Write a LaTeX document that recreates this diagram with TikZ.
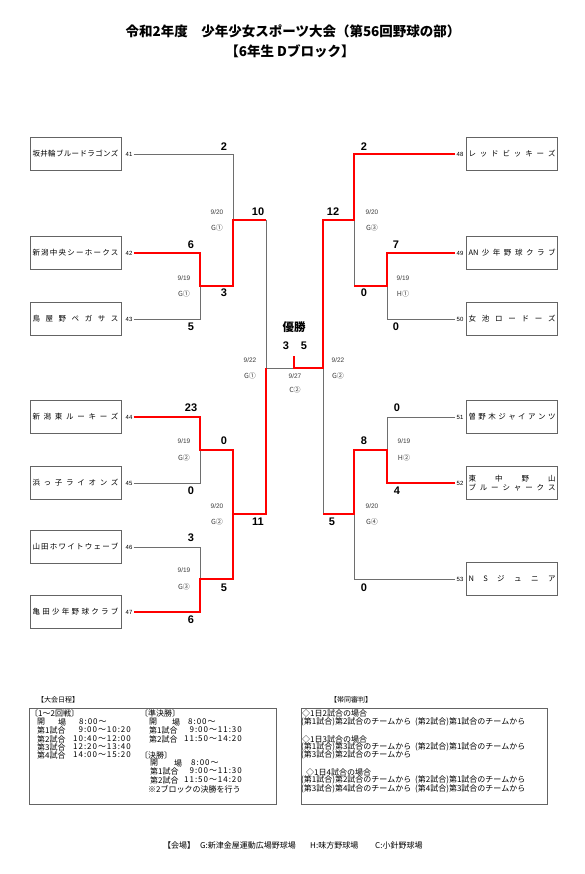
\documentclass[tikz,border=0pt]{standalone}
\usepackage{fontspec}
\setmainfont{Noto Sans CJK JP}
\newfontfamily\arialf{Liberation Sans}
\newfontfamily\timef[LetterSpace=12]{Noto Sans CJK JP}
\definecolor{lgray}{RGB}{110,110,110}
\definecolor{bgray}{RGB}{100,100,100}
\definecolor{tgray}{RGB}{60,60,60}
\newcommand\sprL[1]{\makebox[86pt][s]{#1}}
\newcommand\sprR[1]{\makebox[87pt][s]{#1}}
\tikzset{
 gl/.style={draw=lgray, line width=0.9pt},
 rl/.style={draw=red, line width=1.9pt},
 team/.style={draw=bgray, line width=0.9pt, minimum width=91pt, minimum height=33pt, inner sep=0pt, font=\fontsize{7.5}{9}\selectfont},
 num/.style={inner sep=1pt, font=\arialf\fontsize{6}{7}\selectfont},
 score/.style={inner sep=0pt, font=\arialf\bfseries\fontsize{11}{12}\selectfont},
 dt/.style={inner sep=0pt, text=tgray, font=\arialf\fontsize{6.5}{7}\selectfont},
 gd/.style={inner sep=0pt, text=tgray, font=\fontsize{7}{8}\selectfont},
 sm/.style={inner sep=0pt, anchor=west, font=\fontsize{8}{9}\selectfont},
 sme/.style={inner sep=0pt, anchor=east, font=\timef\fontsize{8}{9}\selectfont},
 smt/.style={inner sep=0pt, anchor=west, font=\timef\fontsize{8}{9}\selectfont},
 hd/.style={inner sep=0pt, anchor=west, font=\fontsize{7}{8}\selectfont},
 ttl/.style={inner sep=0pt, font=\bfseries\fontsize{13.5}{15}\selectfont},
 infobox/.style={draw=bgray, line width=0.8pt, anchor=north west, inner sep=0pt},
}
\begin{document}
\begin{tikzpicture}[x=1pt,y=-1pt]
\useasboundingbox[fill=white] (0,0) rectangle (585,874);
% title
\node[ttl] (title1) at (293,31) {令和2年度　少年少女スポーツ大会（第56回野球の部）};
\node[ttl] (title2) at (290,51) {【6年生 Dブロック】};
% left teams
\node[team] (t41) at (75.5,154) {\sprL{坂\hfill 井\hfill 輪\hfill ブ\hfill ル\hfill ー\hfill ド\hfill ラ\hfill ゴ\hfill ン\hfill ズ}};
\node[team] (t42) at (75.5,253) {\sprL{新\hfill 潟\hfill 中\hfill 央\hfill シ\hfill ー\hfill ホ\hfill ー\hfill ク\hfill ス}};
\node[team] (t43) at (75.5,319) {\sprL{鳥\hfill 屋\hfill 野\hfill ペ\hfill ガ\hfill サ\hfill ス}};
\node[team] (t44) at (75.5,417) {\sprL{新\hfill 潟\hfill 東\hfill ル\hfill ー\hfill キ\hfill ー\hfill ズ}};
\node[team] (t45) at (75.5,483) {\sprL{浜\hfill っ\hfill 子\hfill ラ\hfill イ\hfill オ\hfill ン\hfill ズ}};
\node[team] (t46) at (75.5,547) {\sprL{山\hfill 田\hfill ホ\hfill ワ\hfill イ\hfill ト\hfill ウ\hfill ェ\hfill ー\hfill ブ}};
\node[team] (t47) at (75.5,612) {\sprL{亀\hfill 田\hfill 少\hfill 年\hfill 野\hfill 球\hfill ク\hfill ラ\hfill ブ}};
\node[num] (n41) at (129,154) {41};
\node[num] (n42) at (129,253) {42};
\node[num] (n43) at (129,319) {43};
\node[num] (n44) at (129,417) {44};
\node[num] (n45) at (129,483) {45};
\node[num] (n46) at (129,547) {46};
\node[num] (n47) at (129,612) {47};
% right teams
\node[team] (t48) at (512,154) {\sprR{レ\hfill ッ\hfill ド\hfill ビ\hfill ッ\hfill キ\hfill ー\hfill ズ}};
\node[team] (t49) at (512,253) {\sprR{AN\hfill 少\hfill 年\hfill 野\hfill 球\hfill ク\hfill ラ\hfill ブ}};
\node[team] (t50) at (512,319) {\sprR{女\hfill 池\hfill ロ\hfill ー\hfill ド\hfill ー\hfill ズ}};
\node[team] (t51) at (512,417) {\sprR{曽\hfill 野\hfill 木\hfill ジ\hfill ャ\hfill イ\hfill ア\hfill ン\hfill ツ}};
\node[team, align=center, font=\fontsize{7.5}{9.5}\selectfont] (t52) at (512,483) {\sprR{東\hfill 中\hfill 野\hfill 山}\\\sprR{ブ\hfill ル\hfill ー\hfill シ\hfill ャ\hfill ー\hfill ク\hfill ス}};
\node[team] (t53) at (512,579) {\sprR{N\hfill S\hfill ジ\hfill ュ\hfill ニ\hfill ア}};
\node[num] (n48) at (460,154) {48};
\node[num] (n49) at (460,253) {49};
\node[num] (n50) at (460,319) {50};
\node[num] (n51) at (460,417) {51};
\node[num] (n52) at (460,483) {52};
\node[num] (n53) at (460,579) {53};
% junction coordinates
\coordinate (L1a) at (200,286);
\coordinate (L2a) at (233,220);
\coordinate (L2b) at (233,286);
\coordinate (L1c) at (200,450);
\coordinate (L1d) at (200,579);
\coordinate (L2c) at (233,450);
\coordinate (L2d) at (233,579);
\coordinate (L2e) at (233,514);
\coordinate (SLtop) at (266,220);
\coordinate (SLbot) at (266,514);
\coordinate (SLj) at (266,368);
\coordinate (Fj) at (294,368);
\coordinate (Ftop) at (294,356);
\coordinate (SRj) at (323,368);
\coordinate (SRtop) at (323,220);
\coordinate (SRbot) at (323,514);
\coordinate (R2a) at (354,220);
\coordinate (R2b) at (354,286);
\coordinate (R1a) at (387,286);
\coordinate (R1c) at (387,450);
\coordinate (R2c) at (354,450);
\coordinate (R2e) at (354,514);
% gray lines
\draw[gl] (n41.east) -| (L2a);
\draw[gl] (n43.east) -| (L1a);
\draw[gl] (SLtop) -- (SLj) -- (Fj);
\draw[gl] (n45.east) -| (L1c);
\draw[gl] (n46.east) -| (L1d);
\draw[gl] (R2a) -- (R2b);
\draw[gl] (n50.west) -| (R1a);
\draw[gl] (n51.west) -| (R1c);
\draw[gl] (n53.west) -| (R2e);
\draw[gl] (SRbot) -- (SRj);
% red lines
\draw[rl] (n42.east) -| (L1a) -- (L2b) |- (SLtop);
\draw[rl] (n44.east) -| (L1c) -- (L2c) -- (L2d) -- (L1d) |- (n47.east);
\draw[rl] (L2e) -- (SLbot) -- (SLj);
\draw[rl] (n48.west) -| (R2a) -- (SRtop) -- (SRj) -- (Fj) -- (Ftop);
\draw[rl] (n49.west) -| (R1a) -- (R2b);
\draw[rl] (n52.west) -| (R1c) -- (R2c) -- (R2e) -- (SRbot);
% scores left
\node[score] (s1) at (224,147) {2};
\node[score] (s2) at (191,245) {6};
\node[score] (s3) at (224,293) {3};
\node[score] (s4) at (191,327) {5};
\node[score] (s5) at (258,212) {10};
\node[score] (s6) at (191,408) {23};
\node[score] (s7) at (224,441) {0};
\node[score] (s8) at (191,491) {0};
\node[score] (s9) at (258,522) {11};
\node[score] (s10) at (191,538) {3};
\node[score] (s11) at (224,588) {5};
\node[score] (s12) at (191,620) {6};
% scores right
\node[score] (s13) at (364,147) {2};
\node[score] (s14) at (333,212) {12};
\node[score] (s15) at (396,245) {7};
\node[score] (s16) at (364,293) {0};
\node[score] (s17) at (396,327) {0};
\node[score] (s18) at (397,408) {0};
\node[score] (s19) at (364,441) {8};
\node[score] (s20) at (397,491) {4};
\node[score] (s21) at (332,522) {5};
\node[score] (s22) at (364,588) {0};
% final
\node[inner sep=0pt, font=\bfseries\fontsize{11.5}{13}\selectfont] (win) at (294,327) {優勝};
\node[score] (f1) at (286,346) {3};
\node[score] (f2) at (304,346) {5};
% dates left
\node[dt] (d1) at (217,212) {9/20};  \node[gd] (g1) at (217,228) {G①};
\node[dt] (d2) at (184,278) {9/19};  \node[gd] (g2) at (184,294) {G①};
\node[dt] (d3) at (184,441) {9/19};  \node[gd] (g3) at (184,458) {G②};
\node[dt] (d4) at (217,506) {9/20};  \node[gd] (g4) at (217,522) {G②};
\node[dt] (d5) at (184,570) {9/19};  \node[gd] (g5) at (184,587) {G③};
% dates center
\node[dt] (d6) at (250,360) {9/22};  \node[gd] (g6) at (250,376) {G①};
\node[dt] (d7) at (338,360) {9/22};  \node[gd] (g7) at (338,376) {G②};
\node[dt] (d8) at (295,376) {9/27};  \node[gd] (g8) at (295,390) {C②};
% dates right
\node[dt] (d9) at (372,212) {9/20};  \node[gd] (g9) at (372,228) {G③};
\node[dt] (d10) at (403,278) {9/19}; \node[gd] (g10) at (403,294) {H①};
\node[dt] (d11) at (404,441) {9/19}; \node[gd] (g11) at (404,458) {H②};
\node[dt] (d12) at (372,506) {9/20}; \node[gd] (g12) at (372,522) {G④};
% schedule box
\node[hd] (h1) at (37,700) {【大会日程】};
\node[infobox, minimum width=247pt, minimum height=96pt] (sched) at (29,708) {};
\node[sm] (a1) at (30,713) {〔1～2回戦〕};
\node[sm] (a2) at (37,722) {開};
\node[sm] (a2b) at (58,722) {場};
\node[smt] (a2c) at (79,722) {8:00～};
\node[sm] (a3) at (37,730) {第1試合};
\node[sme] (a3t) at (131,730) {9:00～10:20};
\node[sm] (a4) at (37,739) {第2試合};
\node[sme] (a4t) at (131,739) {10:40～12:00};
\node[sm] (a5) at (37,747) {第3試合};
\node[sme] (a5t) at (131,747) {12:20～13:40};
\node[sm] (a6) at (37,755) {第4試合};
\node[sme] (a6t) at (131,755) {14:00～15:20};
\node[sm] (b1) at (140,713) {〔準決勝〕};
\node[sm] (b2) at (149,722) {開};
\node[sm] (b2b) at (172,722) {場};
\node[smt] (b2c) at (188,722) {8:00～};
\node[sm] (b3) at (149,730) {第1試合};
\node[sme] (b3t) at (242,730) {9:00～11:30};
\node[sm] (b4) at (149,739) {第2試合};
\node[sme] (b4t) at (242,739) {11:50～14:20};
\node[sm] (c1) at (140,755) {〔決勝〕};
\node[sm] (c2) at (150,763) {開};
\node[sm] (c2b) at (174,763) {場};
\node[smt] (c2c) at (191,763) {8:00～};
\node[sm] (c3) at (150,771) {第1試合};
\node[sme] (c3t) at (242,771) {9:00～11:30};
\node[sm] (c4) at (150,780) {第2試合};
\node[sme] (c4t) at (242,780) {11:50～14:20};
\node[sm] (c5) at (148,789) {※2ブロックの決勝を行う};
% referee box
\node[hd] (h2) at (330,700) {【帯同審判】};
\node[infobox, minimum width=246pt, minimum height=96pt] (ref) at (301,708) {};
\node[sm] (r1) at (302,713) {◇1日2試合の場合};
\node[sm] (r2) at (301,722) {(第1試合)第2試合のチームから};
\node[sm] (r2b) at (415,722) {(第2試合)第1試合のチームから};
\node[sm] (r3) at (302,739) {◇1日3試合の場合};
\node[sm] (r4) at (301,747) {(第1試合)第3試合のチームから};
\node[sm] (r4b) at (415,747) {(第2試合)第1試合のチームから};
\node[sm] (r5) at (301,755) {(第3試合)第2試合のチームから};
\node[sm] (r6) at (306,772) {◇1日4試合の場合};
\node[sm] (r7) at (301,780) {(第1試合)第2試合のチームから};
\node[sm] (r7b) at (415,780) {(第2試合)第1試合のチームから};
\node[sm] (r8) at (301,789) {(第3試合)第4試合のチームから};
\node[sm] (r8b) at (415,789) {(第4試合)第3試合のチームから};
% venues
\node[sm] (v0) at (163,845) {【会場】};
\node[sm] (v1) at (200,845) {G:新津金屋運動広場野球場};
\node[sm] (v2) at (310,845) {H:味方野球場};
\node[sm] (v3) at (375,845) {C:小針野球場};
\end{tikzpicture}
\end{document}
